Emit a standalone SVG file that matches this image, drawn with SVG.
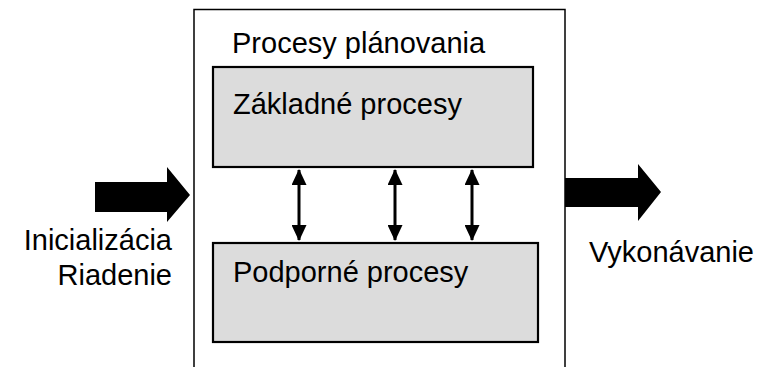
<svg xmlns="http://www.w3.org/2000/svg" width="773" height="367" viewBox="0 0 773 367">
  <defs>
    <style>
      text { font-family: "Liberation Sans", Arial, sans-serif; font-size: 29px; fill: #000; }
      .frame { fill: #fff; stroke: #000; stroke-width: 1.5; }
      .proc { fill: #dcdcdc; stroke: #000; stroke-width: 2.2; }
      .flow { fill: #000; }
      .link { stroke: #000; stroke-width: 3; }
    </style>
    <marker id="head" viewBox="0 0 16 15" refX="15" refY="7.5" markerWidth="16" markerHeight="15" markerUnits="userSpaceOnUse" orient="auto-start-reverse">
      <path d="M0,0 L16,7.5 L0,15 Z" fill="#000"/>
    </marker>
  </defs>

  <rect width="773" height="367" fill="#fff"/>

  <!-- planning frame -->
  <g id="planning">
    <rect class="frame" x="194" y="9.5" width="371" height="380"/>
    <text x="232" y="53">Procesy plánovania</text>
  </g>

  <g id="core">
    <rect class="proc" x="213" y="67" width="320" height="100"/>
    <text x="233" y="114">Základné procesy</text>
  </g>

  <g id="support">
    <rect class="proc" x="213" y="243" width="325" height="99"/>
    <text x="233" y="282">Podporné procesy</text>
  </g>

  <!-- input / output block arrows -->
  <g id="input">
    <polygon class="flow" points="95,182 167,182 167,167 190,195 167,222 167,212 95,212"/>
    <text x="172" y="250" text-anchor="end">Inicializácia</text>
    <text x="172" y="285" text-anchor="end">Riadenie</text>
  </g>

  <g id="output">
    <polygon class="flow" points="565,178 638,178 638,164 661,192 638,221 638,207 565,207"/>
    <text x="589" y="262">Vykonávanie</text>
  </g>

  <!-- links between core and support processes -->
  <g id="connectors">
    <line class="link" x1="299" y1="170" x2="299" y2="240" marker-start="url(#head)" marker-end="url(#head)"/>
    <line class="link" x1="395" y1="170" x2="395" y2="240" marker-start="url(#head)" marker-end="url(#head)"/>
    <line class="link" x1="472" y1="170" x2="472" y2="240" marker-start="url(#head)" marker-end="url(#head)"/>
  </g>
</svg>
